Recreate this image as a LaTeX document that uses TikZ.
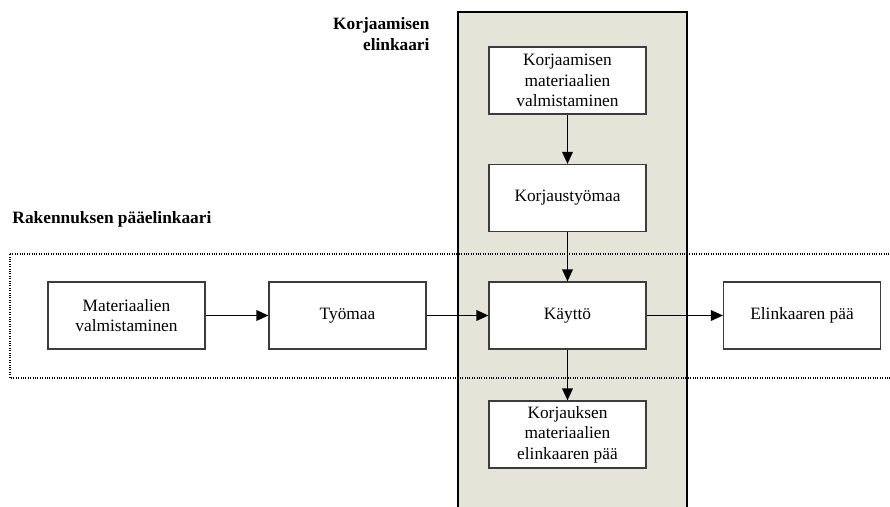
\documentclass[tikz,border=0pt]{standalone}
\usepackage{fontspec}
\setmainfont{Liberation Serif}
\usetikzlibrary{arrows.meta}

\definecolor{columngray}{RGB}{228,228,216}
\definecolor{boxline}{RGB}{60,60,60}

\tikzset{every picture/.style={line width=0.75pt}}
\tikzset{
  phasebox/.style={draw=boxline, fill=white, line width=0.9pt, minimum width=117.75pt, minimum height=50.25pt, align=center, inner sep=0.75pt, font=\fontsize{13}{15.5}\selectfont},
  flow/.style={-{Triangle[length=9pt,width=8pt]}, line width=1pt},
  headlabel/.style={inner sep=0pt, font=\fontsize{13}{15.5}\selectfont\bfseries}
}

\begin{document}
\begin{tikzpicture}[x=0.75pt,y=0.75pt,yscale=-1,xscale=1]
    \useasboundingbox (0,0) rectangle (890,507);

    %Shape: Rectangle [korjaaminen column]
    \draw [fill=columngray, line width=1.1pt] (458,12) -- (687,12) -- (687,512) -- (458,512) -- cycle ;

    %Shape: Rectangle [paaelinkaari frame]
    \draw [densely dotted, line width=0.8pt] (10,254) -- (897,254) -- (897,378) -- (10,378) -- cycle ;

    % Text Node
    \node [headlabel, anchor=north east, align=right] (korjhead) at (430,17) {Korjaamisen\\elinkaari};
    % Text Node
    \node [headlabel, anchor=base west] (rakhead) at (12,223) {Rakennuksen pääelinkaari};

    % Box Nodes
    \node [phasebox] (matval) at (126.5,315.5) {Materiaalien\\valmistaminen};
    \node [phasebox] (tyomaa) at (347.5,315.5) {Työmaa};
    \node [phasebox] (kaytto) at (567.5,315.5) {Käyttö};
    \node [phasebox] (loppu) at (802,315.5) {Elinkaaren pää};
    \node [phasebox] (korjmat) at (567.5,80.5) {Korjaamisen\\materiaalien\\valmistaminen};
    \node [phasebox] (korjtyo) at (567.5,198) {Korjaustyömaa};
    \node [phasebox] (korjloppu) at (567.5,434.5) {Korjauksen\\materiaalien\\elinkaaren pää};

    %Straight Lines
    \draw [flow] (matval) -- (tyomaa) ;
    \draw [flow] (tyomaa) -- (kaytto) ;
    \draw [flow] (kaytto) -- (loppu) ;
    \draw [flow] (korjmat) -- (korjtyo) ;
    \draw [flow] (korjtyo) -- (kaytto) ;
    \draw [flow] (kaytto) -- (korjloppu) ;

\end{tikzpicture}
\end{document}
